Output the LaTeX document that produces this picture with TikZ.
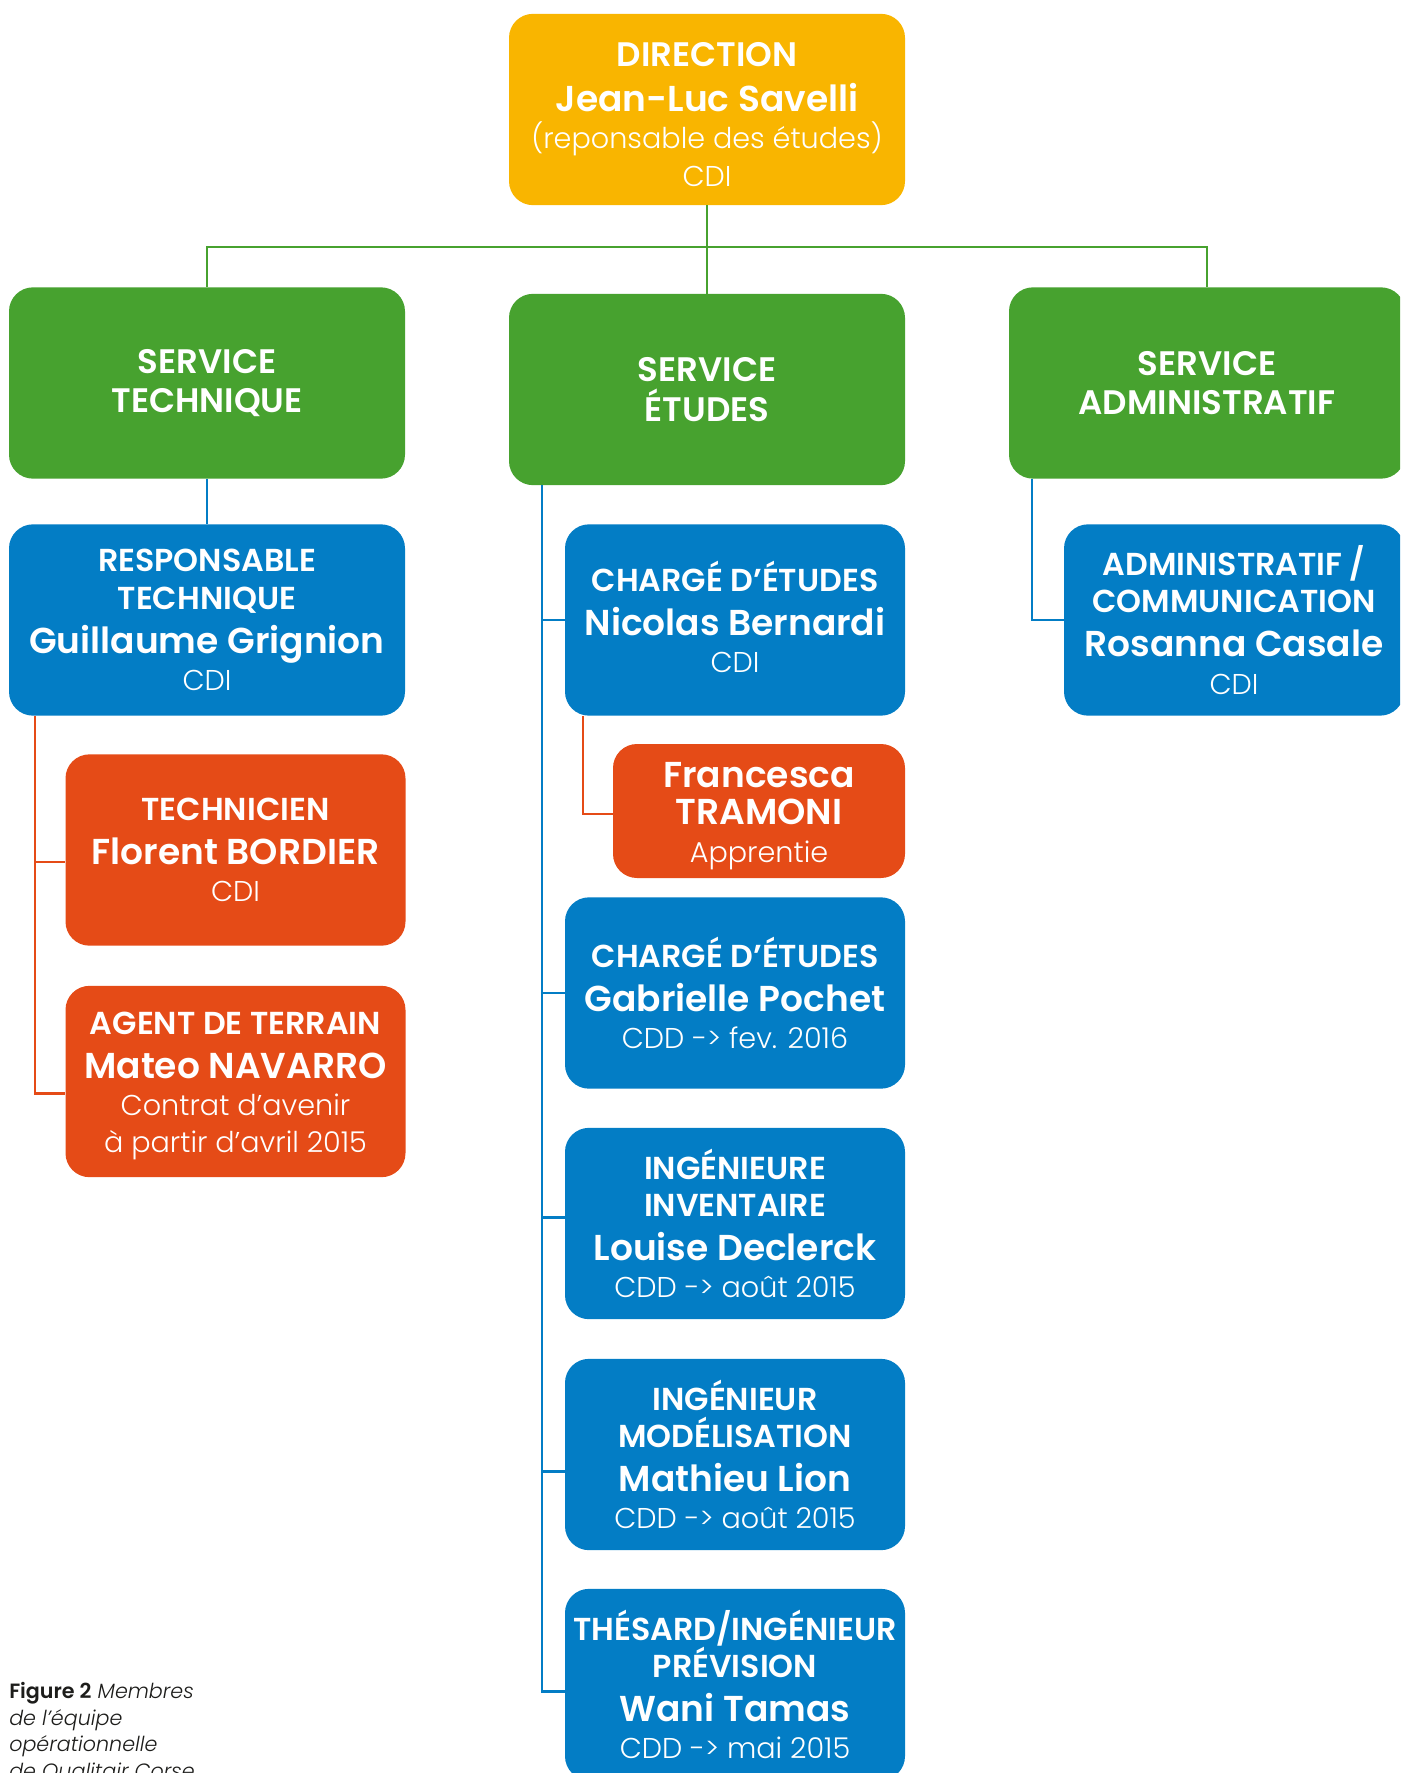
\documentclass[tikz,border=0pt]{standalone}
\usepackage{fontspec}
\setmainfont{Poppins}[BoldFont={Poppins SemiBold}]
\newfontfamily\leger{Poppins Light}
\usetikzlibrary{calc}
\usetikzlibrary{positioning}

\definecolor{jaunedir}{HTML}{F9B500}
\definecolor{vertserv}{HTML}{47A22F}
\definecolor{bleuposte}{HTML}{037DC5}
\definecolor{orangeposte}{HTML}{E54B17}
\definecolor{textelegende}{HTML}{1D1D1B}

\newcommand\service[1]{{\fontsize{25.5}{28}\selectfont\bfseries #1}}
\newcommand\poste[1]{{\fontsize{23.8}{28}\selectfont\bfseries #1}}
\newcommand\nom[1]{{\fontsize{27}{28}\selectfont\bfseries #1}}
\newcommand\contrat[1]{{\leger\fontsize{21.5}{28}\selectfont #1}}

\begin{document}
\begin{tikzpicture}[x=0.75pt,y=-0.75pt,
    box/.style={rounded corners=18pt, inner sep=0pt, align=center, text=white,
      font=\fontsize{22}{28}\selectfont},
    large/.style={box, minimum width=297pt, minimum height=143.5pt},
    etroite/.style={box, minimum width=255pt, minimum height=143.5pt},
    lienvert/.style={draw=vertserv, line width=1.8pt},
    lienbleu/.style={draw=bleuposte, line width=1.8pt},
    lienorange/.style={draw=orangeposte, line width=1.8pt}]
  \useasboundingbox (0,0) rectangle (1400,1773);
  \clip (0,0) rectangle (1400,1773);

  % direction et services
  \node[large, fill=jaunedir] (dir) at (707,109.5) {\rule{0pt}{25pt}\service{DIRECTION}\\[6pt]
    {\fontsize{27}{28}\selectfont\bfseries Jean-Luc Savelli}\\
    \contrat{(reponsable des études)}\\ \contrat{CDI}};
  \node[large, fill=vertserv] (servtech) at (207,383) {\service{SERVICE}\\[1.5pt] \service{TECHNIQUE}};
  \node[large, fill=vertserv] (servetu) at (707,389.5) {\service{SERVICE}\\[1.5pt] \service{ÉTUDES}};
  \node[large, fill=vertserv] (servadm) at (1207,383) {\service{SERVICE}\\[1.5pt] \service{ADMINISTRATIF}};

  % service technique
  \node[large, fill=bleuposte] (resptech) at (207,620) {\poste{RESPONSABLE}\\ \poste{TECHNIQUE}\\[5pt]
    \nom{Guillaume Grignion}\\ \contrat{CDI}};
  \node[etroite, fill=orangeposte] (technicien) at (235.5,850) {\poste{TECHNICIEN}\\[5pt]
    \nom{Florent BORDIER}\\ \contrat{CDI}};
  \node[etroite, fill=orangeposte] (agent) at (235.5,1081.5) {\rule{0pt}{23.5pt}\poste{AGENT DE TERRAIN}\\[5pt]
    \nom{Mateo NAVARRO}\\ \contrat{Contrat d’avenir}\\ \contrat{à partir d’avril 2015}};

  % service etudes
  \node[etroite, fill=bleuposte] (nicolas) at (735,620) {\poste{CHARGÉ D’ÉTUDES}\\[5pt]
    \nom{Nicolas Bernardi}\\ \contrat{CDI}\rule[-4.5pt]{0pt}{4.5pt}};
  \node[box, fill=orangeposte, minimum width=219pt, minimum height=100.5pt] (francesca) at (759,811)
    {\rule{0pt}{26.5pt}\nom{Francesca}\\ \nom{TRAMONI}\\ \contrat{Apprentie}};
  \node[etroite, fill=bleuposte] (gabrielle) at (735,993) {\poste{CHARGÉ D’ÉTUDES}\\[5pt]
    \nom{Gabrielle Pochet}\\ \contrat{CDD -> fev. 2016}};
  \node[etroite, fill=bleuposte] (louise) at (735,1223.5) {\poste{INGÉNIEURE}\\ \poste{INVENTAIRE}\\[5pt]
    \nom{Louise Declerck}\\ \contrat{CDD -> août 2015}};
  \node[etroite, fill=bleuposte] (mathieu) at (735,1454.5) {\poste{INGÉNIEUR}\\ \poste{MODÉLISATION}\\[5pt]
    \nom{Mathieu Lion}\\ \contrat{CDD -> août 2015}};
  \node[etroite, fill=bleuposte] (wani) at (735,1684.5) {\poste{THÉSARD/INGÉNIEUR}\\ \poste{PRÉVISION}\\[5pt]
    \nom{Wani Tamas}\\ \contrat{CDD -> mai 2015}};

  % service administratif
  \node[etroite, fill=bleuposte] (admcom) at (1234,620) {\poste{ADMINISTRATIF /}\\ \poste{COMMUNICATION}\\[5pt]
    \nom{Rosanna Casale}\\ \contrat{CDI}};

  \node[anchor=north west, align=left, inner sep=0pt, text=textelegende,
    font=\leger\itshape\fontsize{15.5}{20}\selectfont] (legende) at (9,1682)
    {{\normalfont\bfseries Figure 2} Membres\\ de l’équipe\\ opérationnelle\\ de Qualitair Corse};

  % liens
  \coordinate (barre) at (707,247);
  \draw[lienvert] (dir.south) -- (servetu.north);
  \draw[lienvert] (servtech.north) |- (barre) -| (servadm.north);

  \draw[lienbleu] (servtech.south) -- (resptech.north);
  \coordinate (tec) at ($(resptech.south west)+(26,0)$);
  \foreach \n in {technicien, agent}
    \draw[lienorange] (tec) |- ($(\n.west)+(0,12)$);

  \coordinate (etu) at ($(servetu.south west)+(33,0)$);
  \foreach \n/\dy in {nicolas/0, gabrielle/0, louise/-6, mathieu/17, wani/7}
    \draw[lienbleu] (etu) |- ($(\n.west)+(0,\dy)$);
  \coordinate (nic) at ($(nicolas.south west)+(18,0)$);
  \draw[lienorange] (nic) |- ($(francesca.west)+(0,3)$);

  \coordinate (adm) at ($(servadm.south west)+(23,0)$);
  \draw[lienbleu] (adm) |- (admcom.west);
\end{tikzpicture}
\end{document}
